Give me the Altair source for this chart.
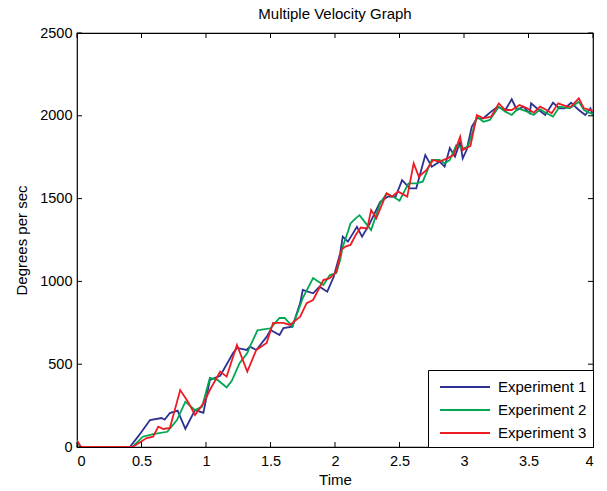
import altair as alt
import pandas as pd

series_names = ["Experiment 1", "Experiment 2", "Experiment 3"]
series_colors = ["#2e3192", "#00a651", "#ed1c24"]

t1 = [0, 0.03, 0.41, 0.48, 0.566, 0.656, 0.68, 0.72, 0.78, 0.84, 0.915, 0.98, 1.03, 1.11, 1.21, 1.24,
      1.315, 1.34, 1.39, 1.47, 1.50, 1.57, 1.60, 1.67, 1.73, 1.75, 1.83, 1.88, 1.94, 1.99, 2.04, 2.06,
      2.10, 2.17, 2.21, 2.27, 2.35, 2.41, 2.47, 2.52, 2.58, 2.63, 2.70, 2.75, 2.81, 2.85, 2.89, 2.93,
      2.97, 2.99, 3.02, 3.06, 3.10, 3.15, 3.21, 3.26, 3.32, 3.37, 3.41, 3.46, 3.51, 3.52, 3.58, 3.63,
      3.69, 3.74, 3.78, 3.83, 3.89, 3.94, 3.98, 4.0]
v1 = [35, 0, 0, 70, 163, 175, 165, 205, 220, 110, 223, 207, 405, 430, 567, 598,
      586, 606, 586, 665, 707, 676, 718, 727, 869, 948, 928, 968, 938, 1028, 1170, 1270,
      1240, 1330, 1270, 1350, 1481, 1512, 1512, 1612, 1562, 1562, 1763, 1693, 1723, 1693, 1805, 1753,
      1844, 1743, 1793, 1934, 1985, 1985, 2025, 2055, 2035, 2100, 2035, 2055, 2015, 2075, 2035, 2005,
      2079, 2045, 2045, 2079, 2035, 2005, 2045, 2000]

t2 = [0, 0.03, 0.43, 0.51, 0.59, 0.70, 0.775, 0.84, 0.915, 0.97, 1.03, 1.09, 1.16, 1.20, 1.26, 1.32,
      1.34, 1.40, 1.42, 1.50, 1.57, 1.61, 1.67, 1.75, 1.83, 1.91, 1.96, 2.01, 2.04, 2.06, 2.10, 2.12,
      2.16, 2.19, 2.25, 2.28, 2.35, 2.40, 2.45, 2.50, 2.57, 2.63, 2.68, 2.75, 2.81, 2.85, 2.89, 2.94,
      2.99, 3.03, 3.06, 3.10, 3.15, 3.20, 3.27, 3.32, 3.37, 3.42, 3.49, 3.54, 3.59, 3.64, 3.69, 3.74,
      3.82, 3.89, 3.93, 3.97, 4.0]
v2 = [30, 0, 0, 62, 78, 92, 163, 274, 223, 244, 417, 405, 360, 400, 506, 567,
      606, 706, 707, 717, 779, 779, 727, 899, 1020, 978, 1038, 1050, 1130, 1210, 1300, 1350,
      1381, 1400, 1340, 1310, 1471, 1532, 1512, 1487, 1592, 1592, 1602, 1733, 1733, 1713, 1733, 1823,
      1804, 1813, 1884, 1995, 1964, 1975, 2055, 2025, 2005, 2045, 2025, 2005, 2039, 2015, 1995, 2055,
      2045, 2085, 2035, 2019, 2010]

t3 = [0, 0.03, 0.43, 0.54, 0.59, 0.63, 0.67, 0.72, 0.80, 0.86, 0.915, 0.98, 1.03, 1.11, 1.16, 1.24,
      1.32, 1.39, 1.47, 1.52, 1.60, 1.65, 1.73, 1.78, 1.83, 1.91, 1.96, 2.01, 2.05, 2.08, 2.12, 2.16,
      2.20, 2.25, 2.28, 2.32, 2.40, 2.44, 2.49, 2.56, 2.61, 2.65, 2.71, 2.76, 2.81, 2.87, 2.92, 2.97,
      2.99, 3.05, 3.10, 3.15, 3.21, 3.27, 3.32, 3.37, 3.43, 3.49, 3.54, 3.59, 3.64, 3.68, 3.73, 3.80,
      3.83, 3.89, 3.93, 3.98, 4.0]
v3 = [40, 0, 0, 54, 62, 123, 109, 115, 344, 274, 193, 264, 344, 455, 425, 616,
      455, 586, 628, 749, 749, 737, 787, 869, 888, 1008, 1020, 1058, 1190, 1210, 1220, 1280,
      1325, 1320, 1431, 1381, 1532, 1512, 1542, 1512, 1713, 1632, 1673, 1733, 1723, 1743, 1763, 1874,
      1793, 1818, 2005, 1985, 1995, 2075, 2035, 2035, 2065, 2045, 2019, 2055, 2035, 2015, 2075, 2055,
      2055, 2105, 2045, 2035, 2030]

x_ticks = [0, 0.5, 1, 1.5, 2, 2.5, 3, 3.5, 4]
y_ticks = [0, 500, 1000, 1500, 2000, 2500]

W, H = 516, 414
FONT = "Liberation Sans"

rows = []
for name, ts, vs in zip(series_names, [t1, t2, t3], [v1, v2, v3]):
    for i, (t, v) in enumerate(zip(ts, vs)):
        rows.append({"Time": t, "Velocity": v, "Series": name, "order": i})
df = pd.DataFrame(rows)

xscale = alt.Scale(domain=[0, 4], nice=False, zero=False)
yscale = alt.Scale(domain=[0, 2500], nice=False, zero=False)

axis_common = dict(tickSize=0, domain=False, grid=False,
                   labelFont=FONT, labelFontSize=14.5, labelColor="black",
                   titleFont=FONT, titleFontSize=15, titleFontWeight="normal", titleColor="black")

lines = alt.Chart(df).mark_line(strokeWidth=1.8, clip=True).encode(
    x=alt.X("Time:Q", scale=xscale,
            axis=alt.Axis(values=x_ticks, format="~g", labelPadding=7, title="Time",
                          titlePadding=5, **axis_common)),
    y=alt.Y("Velocity:Q", scale=yscale,
            axis=alt.Axis(values=y_ticks, format="d", labelPadding=5, title="Degrees per sec",
                          titlePadding=10, **axis_common)),
    color=alt.Color("Series:N", scale=alt.Scale(domain=series_names, range=series_colors),
                    legend=alt.Legend(title=None, orient="bottom-right", offset=0,
                                      symbolType="M-0.5,0H4.5", symbolSize=400,
                                      symbolStrokeWidth=2, labelFontSize=15, labelFont=FONT,
                                      labelColor="black", labelOffset=42, rowPadding=4,
                                      labelExpr="datum.label + '\u00a0\u00a0'",
                                      padding=6, strokeColor="black", fillColor="white",
                                      cornerRadius=0)),
    order="order:Q",
)

xt = pd.DataFrame({"t": x_ticks})
yt = pd.DataFrame({"v": y_ticks})
tick_style = dict(color="black", strokeWidth=1)

xb = alt.Chart(xt).mark_rule(**tick_style).encode(
    x=alt.X("t:Q", scale=xscale), y=alt.value(H), y2=alt.value(H - 5))
xtop = alt.Chart(xt).mark_rule(**tick_style).encode(
    x=alt.X("t:Q", scale=xscale), y=alt.value(0), y2=alt.value(5))
yl = alt.Chart(yt).mark_rule(**tick_style).encode(
    y=alt.Y("v:Q", scale=yscale), x=alt.value(0), x2=alt.value(5))
yr = alt.Chart(yt).mark_rule(**tick_style).encode(
    y=alt.Y("v:Q", scale=yscale), x=alt.value(W), x2=alt.value(W - 5))

chart = alt.layer(lines, xb, xtop, yl, yr).properties(
    width=W, height=H,
    title=alt.TitleParams("Multiple Velocity Graph", fontSize=15, font=FONT, fontWeight="normal",
                          color="black", offset=3),
    autosize=alt.AutoSizeParams(type="none"),
    padding={"left": 77, "top": 33, "right": 14, "bottom": 44},
).configure(background="white").configure_view(stroke="black", strokeWidth=1.2)

chart.save("out.html", embed_options={"renderer": "svg", "actions": False})
